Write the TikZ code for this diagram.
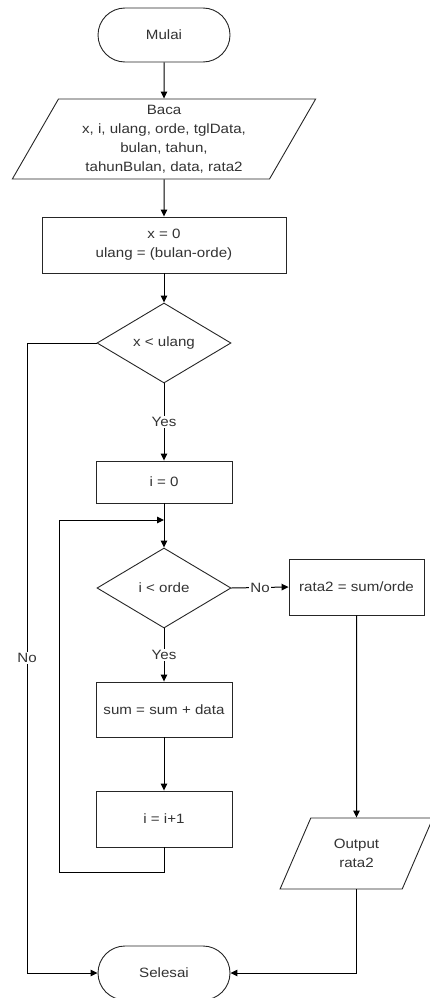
\documentclass[tikz,border=0pt]{standalone}
\usepackage{fontspec}
\setmainfont{Liberation Sans}[FakeStretch=1.12]
\usetikzlibrary{shapes.geometric,shapes.misc,arrows.meta}

\begin{document}
\begin{tikzpicture}[x=1pt,y=-1pt,
  every node/.style={font=\fontsize{13.5}{19}\selectfont, text=black!80},
  base/.style={draw=black!85, line width=0.9pt, fill=white, align=center, inner sep=2pt},
  term/.style={base, rounded rectangle, minimum width=136pt, minimum height=54pt},
  procbox/.style={base, rectangle, minimum width=136pt},
  decide/.style={base, diamond, minimum width=134pt, minimum height=80pt, inner sep=0pt},
  iobox/.style={base, trapezium, trapezium left angle=63, trapezium right angle=117, trapezium stretches=true},
  conn/.style={draw=black, line width=1pt, -{Triangle[length=7pt,width=6.5pt]}},
  lbl/.style={fill=white, inner sep=1.5pt}
]
\useasboundingbox (0,0) rectangle (430,998);

\node[term] (start) at (164,35) {Mulai};
\node[iobox, minimum width=304pt, minimum height=80pt] (read) at (164,139) {Baca\\x, i, ulang, orde, tglData,\\bulan, tahun,\\tahunBulan, data, rata2};
\node[procbox, minimum width=244pt, minimum height=56pt] (init) at (164,245) {x = 0\\ulang = (bulan-orde)};
\node[decide] (cond1) at (164,343) {x < ulang};
\node[procbox, minimum height=42pt] (izero) at (164,482) {i = 0};
\node[decide] (cond2) at (164,588) {i < orde};
\node[procbox, minimum width=135pt, minimum height=56pt] (avg) at (356.5,587) {rata2 = sum/orde};
\node[procbox, minimum height=55pt] (acc) at (164,709.5) {sum = sum + data};
\node[procbox, minimum height=56pt] (inc) at (164,819) {i = i+1};
\node[iobox, minimum width=153pt, minimum height=71pt] (out) at (356.5,853.5) {Output\\rata2};
\node[term] (stop) at (164,973) {Selesai};

\coordinate (noleft) at (27,343);
\coordinate (nobottom) at (27,973);
\coordinate (loopb) at (59,872);
\coordinate (loopc) at (59,520);
\coordinate (merge) at (164,520);

\draw[conn] (start.south) -- (read.north);
\draw[conn] (read.south) -- (init.north);
\draw[conn] (init.south) -- (cond1.north);
\draw[conn] (cond1.south) -- node[lbl]{Yes} (izero.north);
\draw[conn] (izero.south) -- (cond2.north);
\draw[conn] (cond2.south) -- node[lbl]{Yes} (acc.north);
\draw[conn] (acc.south) -- (inc.north);
\draw[conn] (inc.south) |- (loopb) -- (loopc) -- (merge);
\draw[conn] (cond2.east) -- node[lbl]{No} (avg.west);
\draw[conn] (avg.south) -- (out.north);
\draw[conn] (out.south) |- (stop.east);
\draw[conn] (cond1.west) -- (noleft) -- node[lbl]{No} (nobottom) -- (stop.west);
\end{tikzpicture}
\end{document}
